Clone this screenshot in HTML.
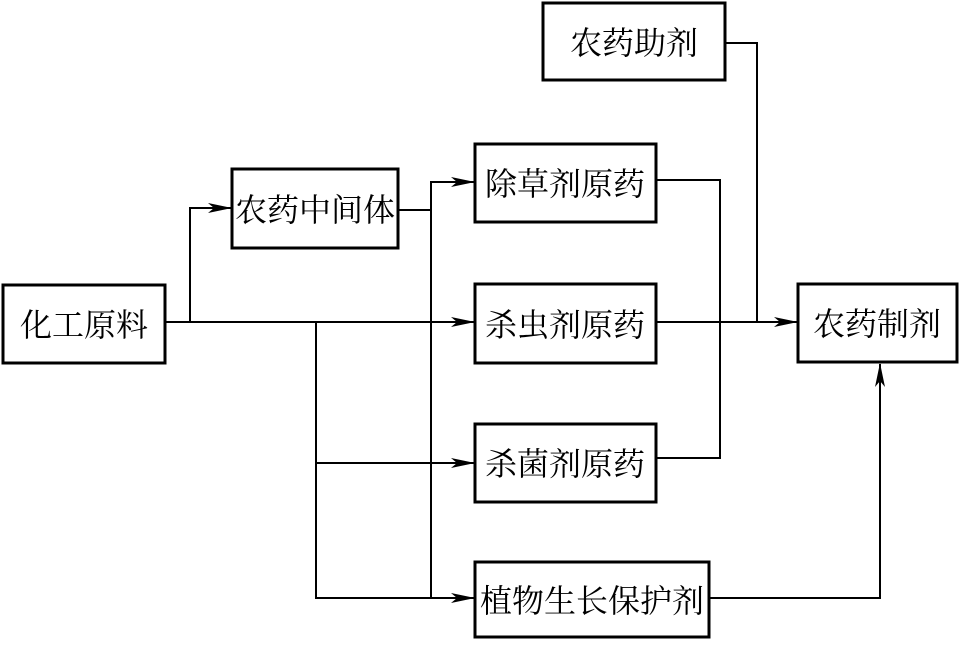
<!DOCTYPE html>
<html><head><meta charset="utf-8"><style>
body{margin:0;background:#fff;width:961px;height:640px;overflow:hidden}
</style></head><body>
<svg width="961" height="640" xmlns="http://www.w3.org/2000/svg">
<defs><marker id="a" markerWidth="24" markerHeight="10" refX="23" refY="5" orient="auto" markerUnits="userSpaceOnUse"><path d="M0,0 L24,5 L0,10 L6,5 z" fill="#000"/></marker></defs>
<g fill="#fff" stroke="#000" stroke-width="3">
<rect x="3" y="285" width="162" height="78"/>
<rect x="232" y="169" width="166" height="79"/>
<rect x="543" y="3" width="182" height="77"/>
<rect x="475" y="144" width="181" height="78"/>
<rect x="475" y="284" width="181" height="79"/>
<rect x="475" y="424" width="181" height="78"/>
<rect x="475" y="562" width="234" height="75"/>
<rect x="798" y="284" width="159" height="78"/>
</g>
<g fill="none" stroke="#000" stroke-width="2">
<path d="M165,322 H474" marker-end="url(#a)"/>
<path d="M190,322 V208 H231" marker-end="url(#a)"/>
<path d="M316,322 V598 H474" marker-end="url(#a)"/>
<path d="M316,463 H474" marker-end="url(#a)"/>
<path d="M398,210 H431 V182 H474" marker-end="url(#a)"/>
<path d="M431,210 V598"/>
<path d="M656,180 H720 V458 H656"/>
<path d="M656,322 H797" marker-end="url(#a)"/>
<path d="M725,43 H757 V322"/>
<path d="M709,598 H880 V364" marker-end="url(#a)"/>
</g>
<g font-family="'Liberation Serif','Noto Serif CJK SC',serif" font-size="32" text-anchor="middle" fill="#000">
<text x="84" y="336">化工原料</text>
<text x="315" y="221">农药中间体</text>
<text x="634" y="54">农药助剂</text>
<text x="565" y="195">除草剂原药</text>
<text x="565" y="336">杀虫剂原药</text>
<text x="565" y="475">杀菌剂原药</text>
<text x="592" y="612">植物生长保护剂</text>
<text x="877" y="335">农药制剂</text>
</g>
</svg>
</body></html>
